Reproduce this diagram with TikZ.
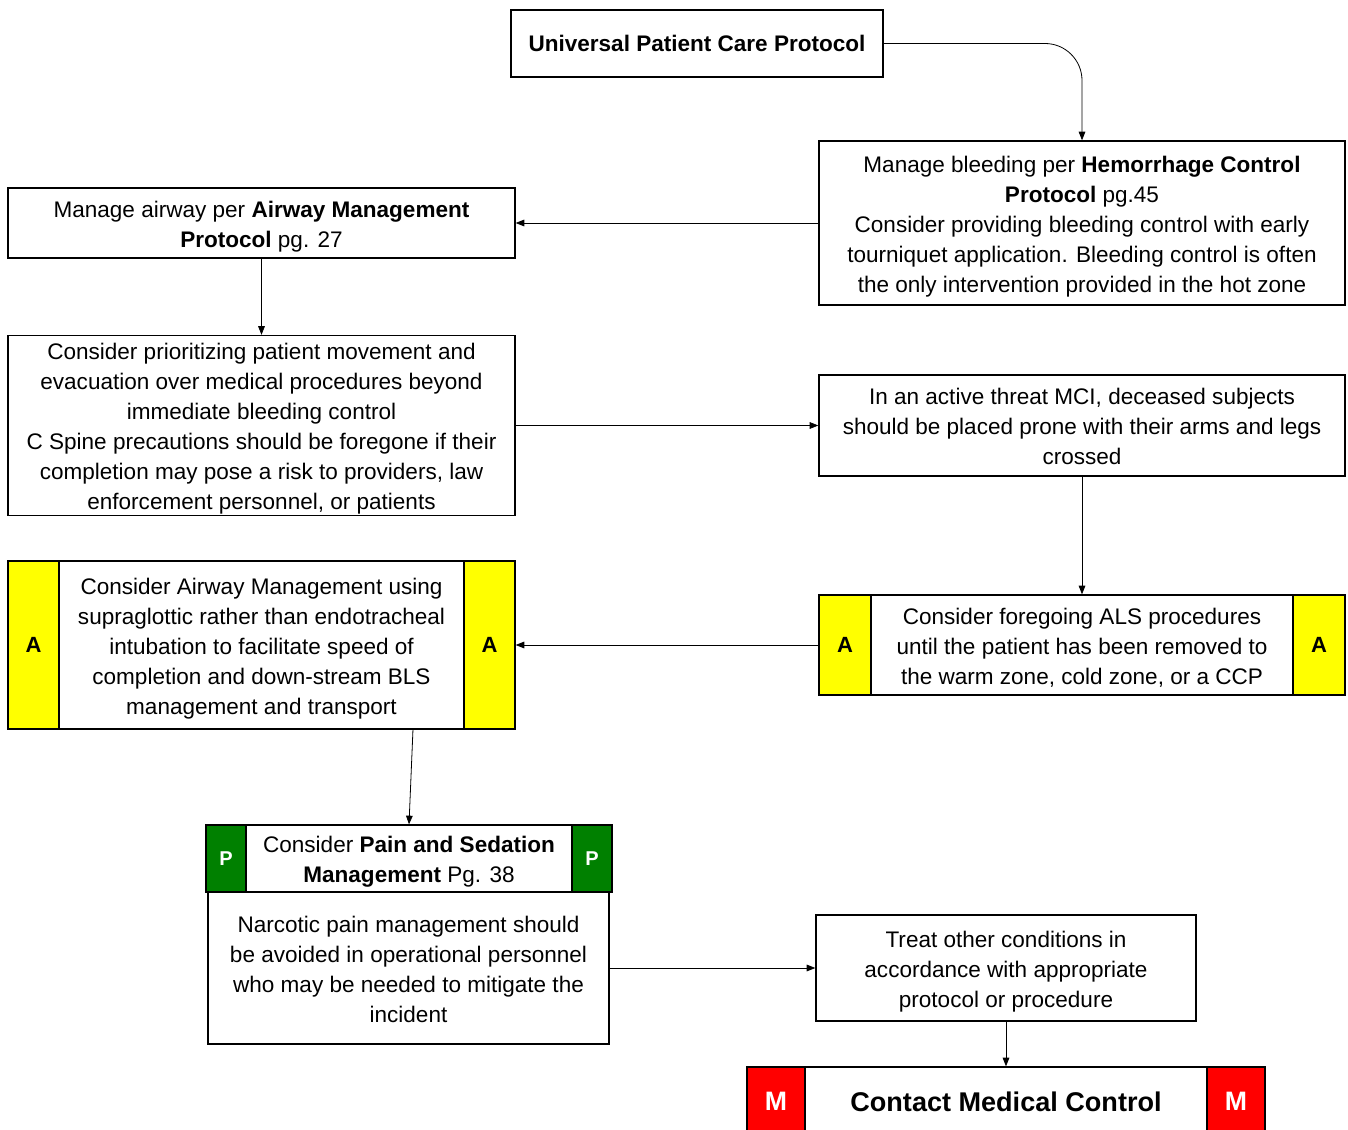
\documentclass[tikz,border=0pt]{standalone}
\usepackage{fontspec}
\setmainfont{Liberation Sans}
\usetikzlibrary{arrows.meta}
\definecolor{ayel}{HTML}{FFFF00}
\definecolor{pgrn}{HTML}{008000}
\definecolor{mred}{HTML}{FF0000}
\newcommand\tx[1]{\raisebox{-2.6pt}[\height][\depth]{\begin{tabular}{@{}c@{}}#1\end{tabular}}}
\newcommand\up[1]{\raisebox{1.5pt}[\height][\depth]{#1}}
\begin{document}
\begin{tikzpicture}[x=0.75pt,y=-0.75pt,
  bx/.style 2 args={draw=black, line width=1pt, fill=white, inner sep=0pt, align=center,
     minimum width=#1*0.75pt, minimum height=#2*0.75pt,
     font=\fontsize{16.9pt}{22.5pt}\selectfont},
  strip/.style 2 args={draw=black, line width=1pt, inner sep=0pt,
     minimum width=#1*0.75pt, minimum height=#2*0.75pt},
  astrip/.style 2 args={strip={#1}{#2}, fill=ayel, font=\fontsize{16.5pt}{20pt}\selectfont\bfseries},
  pstrip/.style 2 args={strip={#1}{#2}, fill=pgrn, text=white, font=\fontsize{15pt}{18pt}\selectfont\bfseries},
  mstrip/.style 2 args={strip={#1}{#2}, fill=mred, text=white, font=\fontsize{20pt}{24pt}\selectfont\bfseries},
  arr/.style={draw=black, line width=0.6pt, -{Triangle[length=6.5pt,width=5pt]}}
]
\useasboundingbox (0,0) rectangle (1348,1130);

% Universal Patient Care Protocol
\node[bx={372}{67}, font=\fontsize{16.9pt}{22.5pt}\selectfont\bfseries] (upcp) at (697,43.5) {Universal Patient Care Protocol};

% Hemorrhage
\node[bx={526}{164}] (hem) at (1082,223) {\tx{Manage bleeding per \textbf{Hemorrhage Control}\\
\textbf{Protocol} pg.45\\
Consider providing bleeding control with early\\
tourniquet application. Bleeding control is often\\
the only intervention provided in the hot zone}};

% Airway
\node[bx={507}{70}] (air) at (261.5,223) {\tx{Manage airway per \textbf{Airway Management}\\
\textbf{Protocol} pg. 27}};

% Prioritize
\node[bx={507}{179}] (prio) at (261.5,425.5) {\tx{Consider prioritizing patient movement and\\
evacuation over medical procedures beyond\\
immediate bleeding control\\
C Spine precautions should be foregone if their\\
completion may pose a risk to providers, law\\
enforcement personnel, or patients}};

% MCI
\node[bx={526}{101}] (mci) at (1082,425.5) {\tx{In an active threat MCI, deceased subjects\\
should be placed prone with their arms and legs\\
crossed}};

% ALS
\node[bx={526}{100}] (als) at (1082,645) {\tx{Consider foregoing ALS procedures\\
until the patient has been removed to\\
the warm zone, cold zone, or a CCP}};
\node[astrip={52}{100}, anchor=west] (alsL) at (als.west) {A};
\node[astrip={52}{100}, anchor=east] (alsR) at (als.east) {A};

% Airway A box
\node[bx={507}{168}] (aa) at (261.5,645) {\tx{Consider Airway Management using\\
supraglottic rather than endotracheal\\
intubation to facilitate speed of\\
completion and down-stream BLS\\
management and transport}};
\node[astrip={51}{168}, anchor=west] (aaL) at (aa.west) {A};
\node[astrip={51}{168}, anchor=east] (aaR) at (aa.east) {A};

% Pain and sedation
\node[bx={406}{67}] (pp) at (409,858.5) {\tx{Consider \textbf{Pain and Sedation}\\
\textbf{Management} Pg. 38}};
\node[pstrip={40}{67}, anchor=west] (ppL) at (pp.west) {P};
\node[pstrip={40}{67}, anchor=east] (ppR) at (pp.east) {P};

% Narcotic
\node[bx={401}{152}] (narc) at (408.5,968) {\tx{Narcotic pain management should\\
be avoided in operational personnel\\
who may be needed to mitigate the\\
incident}};

% Treat other
\node[bx={380}{106}] (treat) at (1006,968) {\tx{Treat other conditions in\\
accordance with appropriate\\
protocol or procedure}};

% Contact Medical Control
\node[bx={518}{73}, font=\fontsize{20.3pt}{24pt}\selectfont\bfseries] (cmc) at (1006,1103.5) {\up{Contact Medical Control}};
\node[mstrip={58}{73}, anchor=west] (cmcL) at (cmc.west) {\up{M}};
\node[mstrip={58}{73}, anchor=east] (cmcR) at (cmc.east) {\up{M}};

% connectors
\draw[arr, rounded corners=27.75pt] (upcp.east) -| (hem.north);
\draw[arr] (hem.west) -- (air.east);
\draw[arr] (air.south) -- (prio.north);
\draw[arr] (prio.east) -- (mci.west);
\draw[arr] (mci.south) -- (als.north);
\draw[arr] (alsL.west) -- (aaR.east);
\draw[arr] ([xshift=113.6pt]aa.south) -- (pp.north);
\draw[arr] (narc.east) -- (treat.west);
\draw[arr] (treat.south) -- (cmc.north);
\end{tikzpicture}
\end{document}
